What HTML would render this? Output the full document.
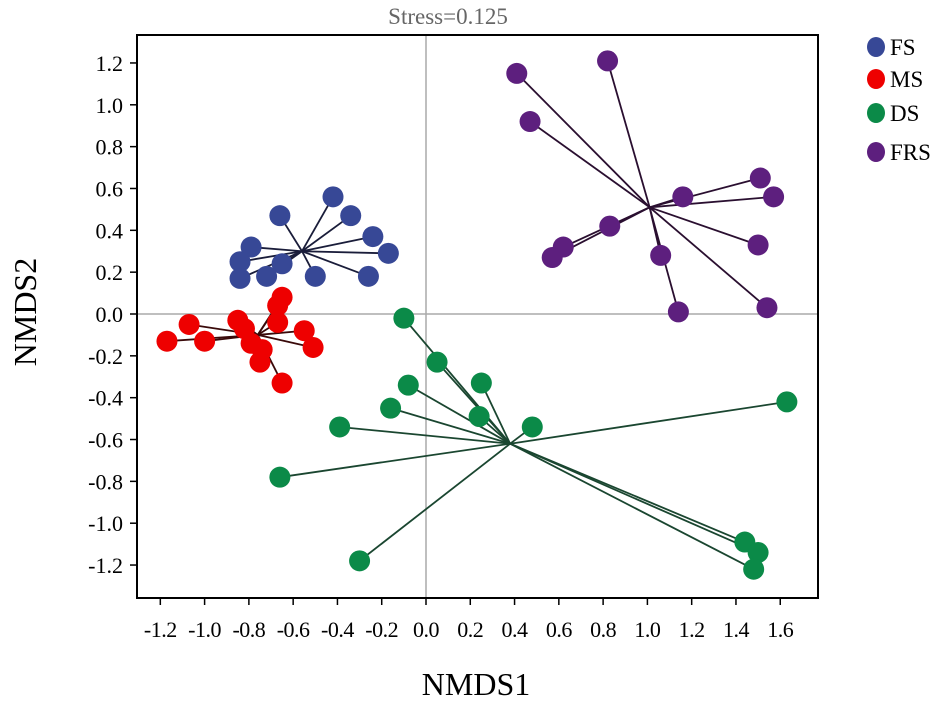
<!DOCTYPE html>
<html><head><meta charset="utf-8"><style>
body{margin:0;background:#fff;}
svg text{font-family:"Liberation Serif",serif;}
</style></head><body>
<svg id="chart" width="945" height="700" xmlns="http://www.w3.org/2000/svg"></svg>
<script>
const groups=["FS","MS","DS","FRS"];
const colors={FS:"#374896",MS:"#ee0000",DS:"#0b8a48",FRS:"#5d1f7e"};
const lineColors={FS:"#1a1d3a",MS:"#3a0a0a",DS:"#1a4630",FRS:"#2a0f30"};
const fsX=[-0.42,-0.66,-0.34,-0.24,-0.17,-0.26,-0.50,-0.65,-0.79,-0.84,-0.84,-0.72];
const fsY=[0.56,0.47,0.47,0.37,0.29,0.18,0.18,0.24,0.32,0.25,0.17,0.18];
const fsC=[-0.56,0.30];
const msX=[-1.17,-1.07,-1.00,-0.85,-0.82,-0.79,-0.74,-0.75,-0.65,-0.67,-0.65,-0.67,-0.55,-0.51];
const msY=[-0.13,-0.05,-0.13,-0.03,-0.07,-0.14,-0.17,-0.23,-0.33,-0.04,0.08,0.04,-0.08,-0.16];
const msC=[-0.76,-0.10];
const dsX=[-0.10,0.05,-0.08,0.25,-0.16,0.24,0.48,-0.39,-0.66,-0.30,1.63,1.44,1.50,1.48];
const dsY=[-0.02,-0.23,-0.34,-0.33,-0.45,-0.49,-0.54,-0.54,-0.78,-1.18,-0.42,-1.09,-1.14,-1.22];
const dsC=[0.38,-0.62];
const frsX=[0.41,0.82,0.47,1.16,1.51,1.57,1.50,1.54,1.14,1.06,0.83,0.62,0.57];
const frsY=[1.15,1.21,0.92,0.56,0.65,0.56,0.33,0.03,0.01,0.28,0.42,0.32,0.27];
const frsC=[1.01,0.51];
const xTicks=[-1.2,-1.0,-0.8,-0.6,-0.4,-0.2,0.0,0.2,0.4,0.6,0.8,1.0,1.2,1.4,1.6];
const yTicks=[1.2,1.0,0.8,0.6,0.4,0.2,0.0,-0.2,-0.4,-0.6,-0.8,-1.0,-1.2];

const L=137,T=35,R=818,B=598;
const sx=v=>426+v*221.4, sy=v=>314-v*209.2;
const svg=document.getElementById('chart');
const NS="http://www.w3.org/2000/svg";
function mk(tag,attrs,parent){const e=document.createElementNS(NS,tag);for(const k in attrs)e.setAttribute(k,attrs[k]);(parent||svg).appendChild(e);return e;}

let t=mk('text',{x:448,y:24,'text-anchor':'middle','font-size':23,fill:'#666'});t.textContent="Stress=0.125";

let zx=mk('line',{x1:sx(0),x2:sx(0),y1:T,y2:B,stroke:'#aaa','stroke-width':1.5});

let zy=mk('line',{x1:L,x2:R,y1:sy(0),y2:sy(0),stroke:'#aaa','stroke-width':1.5});


xTicks.forEach(v=>{
 const tl=mk('line',{x1:sx(v),x2:sx(v),y1:B,y2:B+7,stroke:'#000','stroke-width':1.5});
 
 const tx=mk('text',{x:sx(v),y:637,'text-anchor':'middle','font-size':22,'letter-spacing':-0.5});tx.textContent=v.toFixed(1);
 
});
yTicks.forEach(v=>{
 const tl=mk('line',{x1:L-7,x2:L,y1:sy(v),y2:sy(v),stroke:'#000','stroke-width':1.5});
 
 const tx=mk('text',{x:L-14,y:sy(v)+8,'text-anchor':'end','font-size':22});tx.textContent=v.toFixed(1);
 
});

const sets=[["FS",fsX,fsY,fsC],["MS",msX,msY,msC],["DS",dsX,dsY,dsC],["FRS",frsX,frsY,frsC]];
sets.forEach(([g,xs,ys,c])=>{
 const grp=mk('g',{});
 
 
 xs.forEach((x,i)=>{
  const ln=mk('line',{x1:sx(c[0]),y1:sy(c[1]),x2:sx(x),y2:sy(ys[i]),stroke:lineColors[g],'stroke-width':1.8},grp);
  
 });
 xs.forEach((x,i)=>{
  const p=mk('circle',{cx:sx(x),cy:sy(ys[i]),r:10.5,fill:colors[g]},grp);
  
 });
});

let fr=mk('rect',{x:L,y:T,width:R-L,height:B-T,fill:'none',stroke:'#000','stroke-width':2});


let xt=mk('text',{x:476,y:695,'text-anchor':'middle','font-size':32});xt.textContent="NMDS1";

let yt=mk('text',{x:0,y:0,'text-anchor':'middle','font-size':32,transform:'translate(36,312) rotate(-90)'});yt.textContent="NMDS2";


const legY=[47,79,113,152];
groups.forEach((g,i)=>{
 const lg=mk('g',{});
 
 
 mk('ellipse',{cx:876,cy:legY[i],rx:9,ry:10,fill:colors[g]},lg);
 const lt=mk('text',{x:890,y:legY[i]+8,'font-size':23},lg);lt.textContent=g;
});
</script>
</body></html>
